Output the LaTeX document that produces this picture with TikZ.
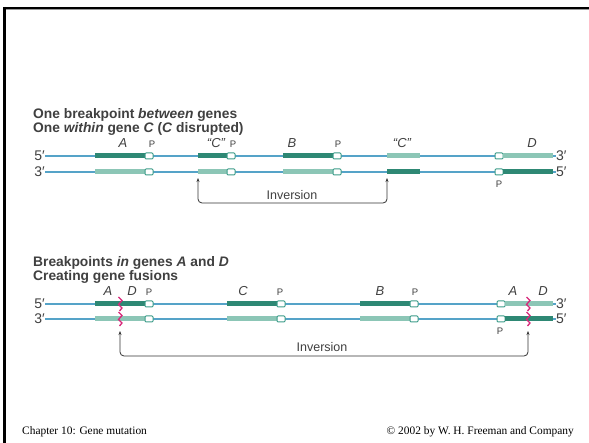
\documentclass[tikz,border=0pt]{standalone}
\usepackage{fontspec}
\setmainfont{Liberation Sans}
\newfontfamily\footfont{Liberation Serif}
\usetikzlibrary{arrows.meta}
\definecolor{strandblue}{HTML}{55A3C8}
\definecolor{darkteal}{HTML}{2E8874}
\definecolor{lightteal}{HTML}{8CC6B6}
\definecolor{pedge}{HTML}{3C9C8A}
\definecolor{txtgray}{HTML}{404040}
\definecolor{fusion}{HTML}{D8287A}
\tikzset{
  strand/.style={strandblue, line width=1.2pt},
  darkbar/.style={darkteal, line width=5pt},
  lightbar/.style={lightteal, line width=5pt},
  pbox/.style={draw=pedge, fill=white, line width=1pt, minimum width=8pt, minimum height=6pt, inner sep=0pt, rounded corners=1pt},
  endlbl/.style={font=\fontsize{14}{14}\selectfont, text=txtgray, inner sep=0pt},
  genelbl/.style={font=\fontsize{13}{13}\selectfont\itshape, text=txtgray, inner sep=0pt},
  plbl/.style={font=\fontsize{9.5}{9.5}\selectfont, text=txtgray, inner sep=0pt},
  title/.style={font=\fontsize{13.8}{14}\selectfont\bfseries, text=txtgray, anchor=west, inner sep=0pt},
  invarrow/.style={{Stealth[length=4pt,width=3pt]}-{Stealth[length=4pt,width=3pt]}, line width=0.8pt, black!80, rounded corners=4pt},
  invlbl/.style={font=\fontsize{12.5}{12.5}\selectfont, text=txtgray, inner sep=0pt},
  wavy/.style={fusion, line width=1.3pt},
  foot/.style={font=\footfont\fontsize{11.4}{11.4}\selectfont, inner sep=0pt}
}
\begin{document}
\begin{tikzpicture}[x=1pt,y=-1pt]
\useasboundingbox (0,0) rectangle (589,443);
\fill[white] (0,0) rectangle (589,443);
% frame
\draw[black, line width=2.5pt] (3,8) -- (589,8);
\draw[black!40, line width=0.6pt] (3,9.8) -- (589,9.8);
\draw[black, line width=2.5pt] (4.5,7) -- (4.5,443);

% ===== Top section =====
\node[title] (t1) at (33,115) {One breakpoint \textit{between} genes};
\node[title] (t2) at (33,129) {One \textit{within} gene \textit{C} (\textit{C} disrupted)};

\node[endlbl, anchor=east] (l5a) at (45,156) {5′};
\node[endlbl, anchor=east] (l3a) at (45,172) {3′};
\node[endlbl, anchor=west] (r3a) at (556,156) {3′};
\node[endlbl, anchor=west] (r5a) at (556,172) {5′};
\draw[strand] (l5a.east) -- (r3a.west);
\draw[strand] (l3a.east) -- (r5a.west);

% gene A
\draw[darkbar] (95,156) -- (145,156);
\draw[lightbar] (95,172) -- (145,172);
\node[pbox] (pa1) at (149,156) {};
\node[pbox] (pa2) at (149,172) {};
% "C" left
\draw[darkbar] (198,156) -- (227,156);
\draw[lightbar] (198,172) -- (227,172);
\node[pbox] (pc1) at (231,156) {};
\node[pbox] (pc2) at (231,172) {};
% B
\draw[darkbar] (283,156) -- (333,156);
\draw[lightbar] (283,172) -- (333,172);
\node[pbox] (pb1) at (337,156) {};
\node[pbox] (pb2) at (337,172) {};
% "C" right
\draw[lightbar] (387,156) -- (420,156);
\draw[darkbar] (387,172) -- (420,172);
% D
\node[pbox] (pd1) at (499,156) {};
\node[pbox] (pd2) at (499,172) {};
\draw[lightbar] (503,156) -- (553,156);
\draw[darkbar] (503,172) -- (553,172);

\node[genelbl] (gA) at (123,143) {A};
\node[plbl] (pA) at (152,144) {P};
\node[genelbl] (gC) at (216,143) {“C”};
\node[plbl] (pC) at (233,144) {P};
\node[genelbl] (gB) at (292,143) {B};
\node[plbl] (pB) at (338,144) {P};
\node[genelbl] (gC2) at (402,143) {“C”};
\node[genelbl] (gD) at (532,143) {D};
\node[plbl] (pD) at (499,184) {P};

\coordinate (ia1) at (198,178);
\coordinate (ia2) at (387,178);
\draw[invarrow] (ia1) -- ++(0,25) -| (ia2);
\node[invlbl] (inv1) at (292,195) {Inversion};

% ===== Bottom section =====
\node[title] (t3) at (33,263) {Breakpoints \textit{in} genes \textit{A} and \textit{D}};
\node[title] (t4) at (33,277) {Creating gene fusions};

\node[endlbl, anchor=east] (l5b) at (45,304) {5′};
\node[endlbl, anchor=east] (l3b) at (45,319) {3′};
\node[endlbl, anchor=west] (r3b) at (556,304) {3′};
\node[endlbl, anchor=west] (r5b) at (556,319) {5′};
\draw[strand] (l5b.east) -- (r3b.west);
\draw[strand] (l3b.east) -- (r5b.west);

% A/D fusion
\draw[darkbar] (95,304) -- (145,304);
\draw[lightbar] (95,319) -- (145,319);
\node[pbox] (qa1) at (149,304) {};
\node[pbox] (qa2) at (149,319) {};
% C
\draw[darkbar] (227,304) -- (277,304);
\draw[lightbar] (227,319) -- (277,319);
\node[pbox] (qc1) at (281,304) {};
\node[pbox] (qc2) at (281,319) {};
% B
\draw[darkbar] (360,304) -- (410,304);
\draw[lightbar] (360,319) -- (410,319);
\node[pbox] (qb1) at (414,304) {};
\node[pbox] (qb2) at (414,319) {};
% D/A fusion
\node[pbox] (qd1) at (501,304) {};
\node[pbox] (qd2) at (501,319) {};
\draw[lightbar] (505,304) -- (553,304);
\draw[darkbar] (505,319) -- (553,319);

% fusion breakpoints
\draw[wavy] (118.5,297) -- (122,300.5) -- (118.5,304.5) -- (122,308) -- (119.5,311);
\draw[wavy] (118.5,312) -- (122,315.5) -- (118.5,319.5) -- (122,323) -- (119.5,326);
\draw[wavy] (526.5,297) -- (530,300.5) -- (526.5,304.5) -- (530,308) -- (527.5,311);
\draw[wavy] (526.5,312) -- (530,315.5) -- (526.5,319.5) -- (530,323) -- (527.5,326);

\node[genelbl] (hA) at (108,291) {A};
\node[genelbl] (hD) at (132,291) {D};
\node[plbl] (hP1) at (149,292) {P};
\node[genelbl] (hC) at (243,291) {C};
\node[plbl] (hP2) at (280,292) {P};
\node[genelbl] (hB) at (380,291) {B};
\node[plbl] (hP3) at (415,292) {P};
\node[genelbl] (hA2) at (513,291) {A};
\node[genelbl] (hD2) at (543,291) {D};
\node[plbl] (hP4) at (500,331) {P};

\coordinate (ib1) at (120,331);
\coordinate (ib2) at (528,331);
\draw[invarrow] (ib1) -- ++(0,25) -| (ib2);
\node[invlbl] (inv2) at (322,347) {Inversion};

% footer
\node[foot, anchor=west] (f1) at (22,432) {Chapter 10: Gene mutation};
\node[foot, anchor=east] (f2) at (574,432) {© 2002 by W. H. Freeman and Company};
\end{tikzpicture}
\end{document}
